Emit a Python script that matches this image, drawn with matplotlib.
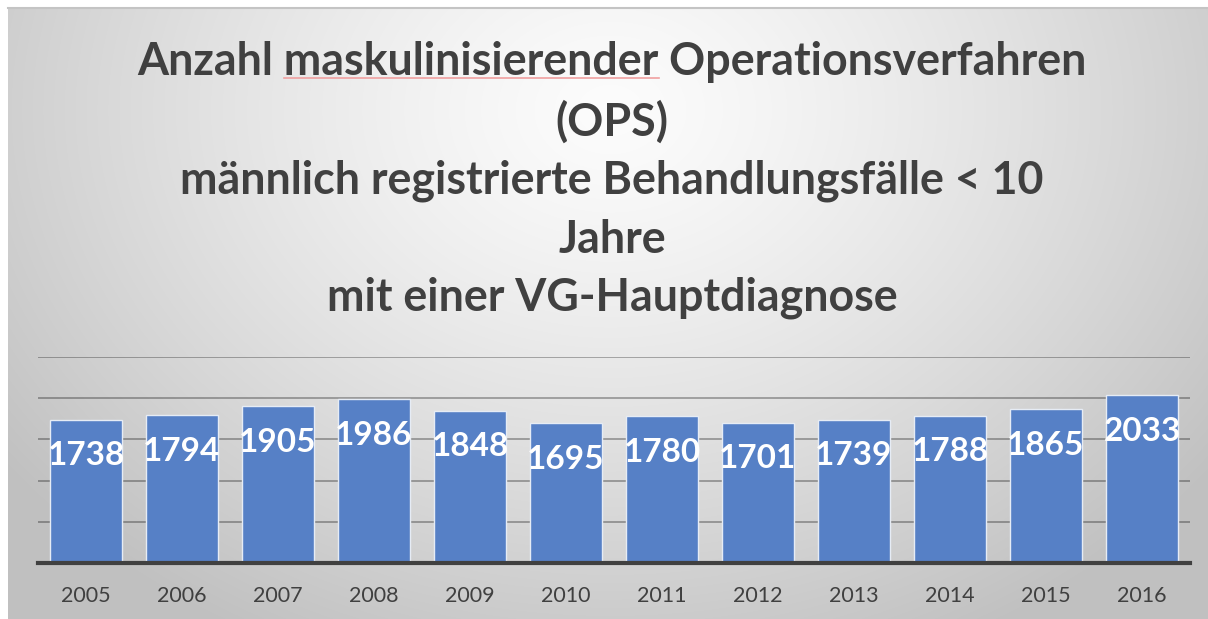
import matplotlib
matplotlib.use("Agg")
import matplotlib.pyplot as plt
import numpy as np

years = ["2005", "2006", "2007", "2008", "2009", "2010",
         "2011", "2012", "2013", "2014", "2015", "2016"]
values = [1738, 1794, 1905, 1986, 1848, 1695, 1780, 1701, 1739, 1788, 1865, 2033]
title_lines = [
    "Anzahl maskulinisierender Operationsverfahren",
    "(OPS)",
    "männlich registrierte Behandlungsfälle < 10",
    "Jahre",
    "mit einer VG-Hauptdiagnose",
]
y_ticks = [500, 1000, 1500, 2000, 2500]

W, H = 1208, 619
fig = plt.figure(figsize=(W / 100, H / 100), dpi=100)
fig.patch.set_facecolor("white")

# background gradient panel
bg = fig.add_axes([0, 0, 1, 1])
bg.set_xlim(0, W)
bg.set_ylim(H, 0)
bg.axis("off")
x0, y0 = 8, 8
yy, xx = np.mgrid[y0:H, x0:W]
d = np.sqrt(((xx - 610) / 760.0) ** 2 + ((yy - 110) / 600.0) ** 2)
d = np.clip(d, 0, 1)
val = 252 - (252 - 192) * d ** 1.3
img = np.dstack([val, val, val]) / 255.0
bg.imshow(img, extent=(x0, W, H, y0), aspect="auto", interpolation="bilinear")
bg.plot([x0, W], [y0, y0], color="#c4c4c4", lw=1.5)

# title lines
title_ys = [62, 122, 181, 240, 298]
fam = ["Lato", "DejaVu Sans"]
fig.canvas.draw()
renderer = fig.canvas.get_renderer()
probe = fig.text(0, 0, title_lines[0], fontsize=30, fontweight="bold", family=fam)
w = probe.get_window_extent(renderer).width
probe.remove()
fs_title = 30 * 949.0 / w
for line, ty in zip(title_lines, title_ys):
    fig.text(612 / W, 1 - ty / H, line, fontsize=fs_title, fontweight="bold",
             family=fam, color="#404040", ha="center", va="center")

# red squiggle under "maskulinisierender"
p1 = fig.text(0, 0, "Anzahl ", fontsize=fs_title, fontweight="bold", family=fam)
p2 = fig.text(0, 0, "Anzahl maskulinisierender", fontsize=fs_title, fontweight="bold", family=fam)
w1 = p1.get_window_extent(renderer).width
w2 = p2.get_window_extent(renderer).width
p1.remove(); p2.remove()
start = 612 - 949.0 / 2
bg.plot([start + w1, start + w2], [78, 78], color="#f0a0a0", lw=1.2)

# bar chart
ax = fig.add_axes([38 / W, 56 / H, 1152 / W, 206 / H])
ax.patch.set_alpha(0)
x = np.arange(len(years))
bars = ax.bar(x, values, width=0.74, color="#5680c6", edgecolor="#e6ecf5",
              linewidth=1.0, zorder=3)
ax.set_xlim(-0.5, len(years) - 0.5)
ax.set_ylim(0, 2500)
ax.set_yticks(y_ticks)
ax.yaxis.grid(True, color="black", alpha=0.3, lw=1.4, zorder=0)
ax.tick_params(axis="y", left=False, labelleft=False)
ax.tick_params(axis="x", bottom=False, pad=13, labelsize=15.5, labelcolor="#404040")
ax.set_xticks(x)
ax.set_xticklabels(years, family=fam)
for s in ["top", "right", "left"]:
    ax.spines[s].set_visible(False)
ax.spines["bottom"].set_color("#404040")
ax.spines["bottom"].set_linewidth(3)
ax.spines["bottom"].set_zorder(4)
for xi, v in zip(x, values):
    ax.annotate(str(v), (xi, v), xytext=(0, -36), textcoords="offset pixels",
                ha="center", va="center", color="white", fontsize=24,
                fontweight="bold", family=fam, zorder=5)

fig.savefig("out.png", dpi=100)
